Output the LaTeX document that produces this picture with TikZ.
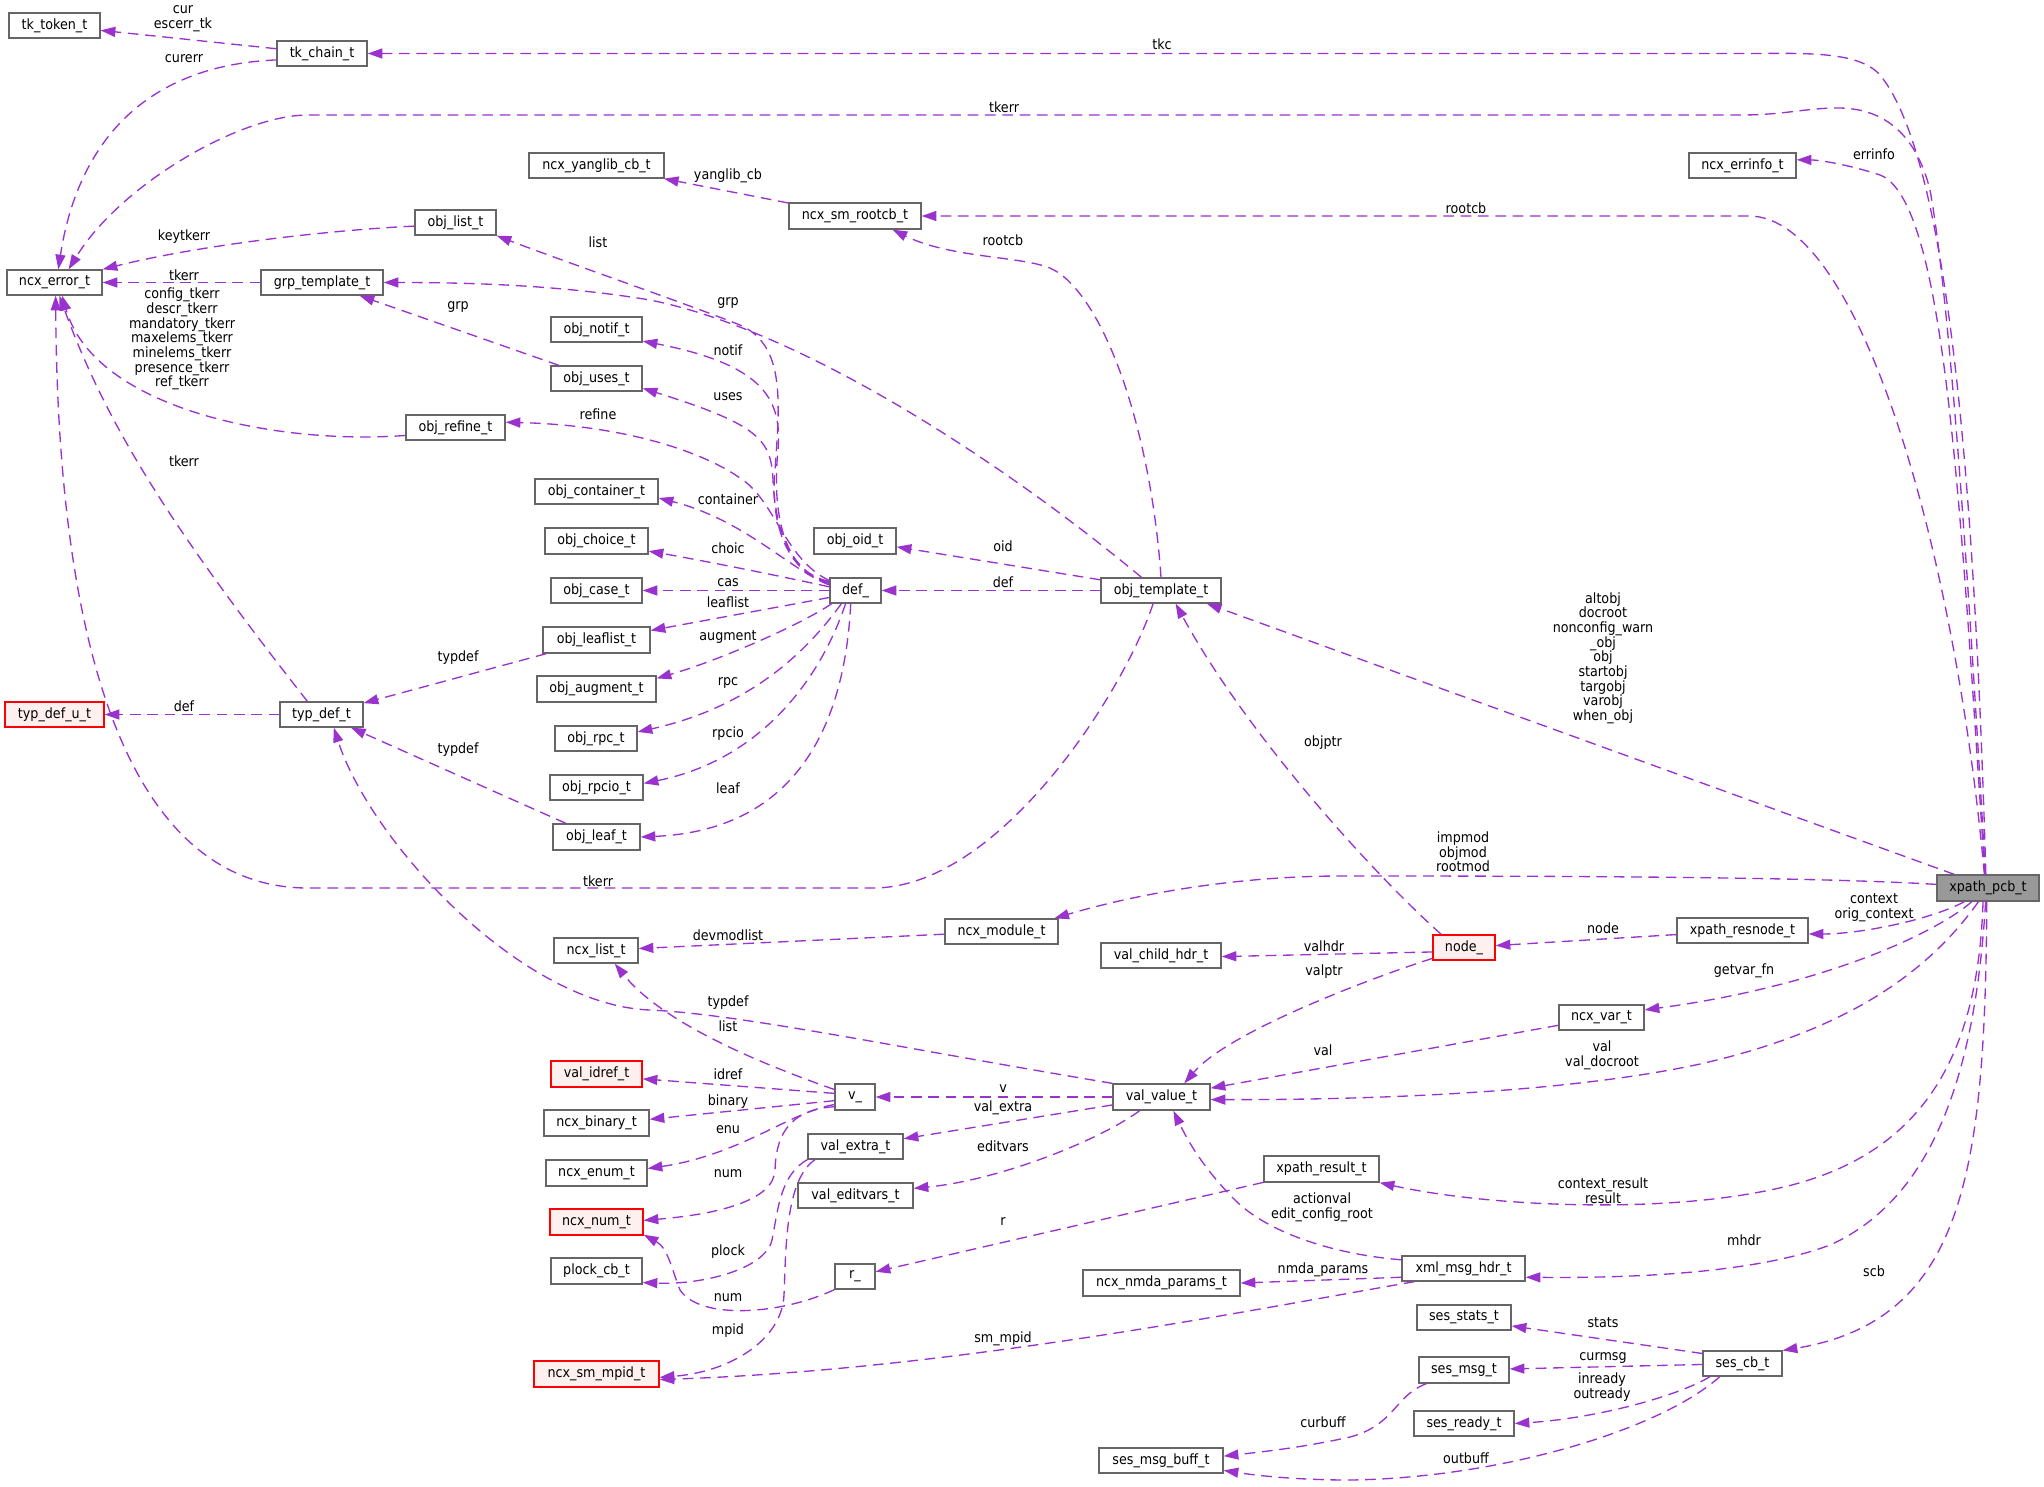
\documentclass[tikz,border=0pt]{standalone}
\usepackage{fontspec}
\setmainfont{DejaVu Sans}[FakeStretch=0.9]
\usetikzlibrary{arrows.meta}
\definecolor{edgec}{HTML}{9A32CD}
\definecolor{bordg}{HTML}{666666}
\definecolor{redf}{HTML}{FFF0F0}
\definecolor{grayf}{HTML}{999999}
\newcommand\fsz{\fontsize{10.6}{11}\selectfont}
\newcommand\nodebx[7][]{\node[cls,#1,minimum width={(#4-#3)*0.75pt},minimum height={(#6-#5)*0.75pt}] (#2) at ({(#3+#4)/2},{(#5+#6)/2}) {#7};}
\newcommand\edgelbl[4]{\node[lbl] (#1) at (#2,#3) {#4};}
\begin{document}
\begin{tikzpicture}[x=0.75pt,y=-0.75pt,
  cls/.style={draw=bordg,fill=white,line width=1pt,inner sep=0pt,font=\fsz},
  rednode/.style={draw=red,fill=redf},
  mainnode/.style={fill=grayf},
  lbl/.style={inner sep=0pt,font=\fsz,align=center},
  lnk/.style={draw=edgec,line width=1pt,dash pattern=on 8pt off 5pt,-{Triangle[length=11pt,width=7.5pt]}}]
\useasboundingbox (0,0) rectangle (2044,1486);
% nodes
\nodebx{tktoken}{9}{100}{13}{38}{tk\_token\_t}
\nodebx{tkchain}{277}{367}{41}{66}{tk\_chain\_t}
\nodebx{ncxerror}{7}{102}{270}{295}{ncx\_error\_t}
\nodebx{yanglib}{529}{664}{153}{178}{ncx\_yanglib\_cb\_t}
\nodebx{rootcb}{789}{921}{203}{229}{ncx\_sm\_rootcb\_t}
\nodebx{errinfo}{1689}{1796}{153}{178}{ncx\_errinfo\_t}
\nodebx{objlist}{415}{496}{210}{235}{obj\_list\_t}
\nodebx{grptmpl}{261}{383}{270}{295}{grp\_template\_t}
\nodebx{objnotif}{551}{642}{317}{342}{obj\_notif\_t}
\nodebx{objuses}{551}{642}{366}{391}{obj\_uses\_t}
\nodebx{objrefine}{406}{505}{415}{440}{obj\_refine\_t}
\nodebx{objcontainer}{535}{658}{479}{504}{obj\_container\_t}
\nodebx{objchoice}{545}{648}{528}{554}{obj\_choice\_t}
\nodebx{objcase}{551}{642}{578}{603}{obj\_case\_t}
\nodebx{objleaflist}{543}{650}{627}{653}{obj\_leaflist\_t}
\nodebx{objaugment}{537}{656}{676}{702}{obj\_augment\_t}
\nodebx{objrpc}{555}{637}{726}{751}{obj\_rpc\_t}
\nodebx{objrpcio}{550}{643}{775}{800}{obj\_rpcio\_t}
\nodebx{objleaf}{553}{640}{824}{850}{obj\_leaf\_t}
\nodebx[rednode]{typdefu}{5}{104}{702}{727}{typ\_def\_u\_t}
\nodebx{typdef}{280}{363}{702}{727}{typ\_def\_t}
\nodebx{objoid}{814}{896}{528}{554}{obj\_oid\_t}
\nodebx{def}{830}{881}{578}{603}{def\_}
\nodebx{objtmpl}{1101}{1221}{578}{603}{obj\_template\_t}
\nodebx[mainnode]{xpathpcb}{1937}{2039}{875}{901}{xpath\_pcb\_t}
\nodebx{ncxmodule}{945}{1058}{919}{944}{ncx\_module\_t}
\nodebx{ncxlist}{554}{638}{938}{963}{ncx\_list\_t}
\nodebx{valchild}{1101}{1221}{943}{968}{val\_child\_hdr\_t}
\nodebx[rednode]{nodeu}{1433}{1495}{935}{960}{node\_}
\nodebx{resnode}{1677}{1808}{918}{943}{xpath\_resnode\_t}
\nodebx{ncxvar}{1559}{1644}{1005}{1030}{ncx\_var\_t}
\nodebx[rednode]{validref}{551}{642}{1061}{1087}{val\_idref\_t}
\nodebx{ncxbinary}{544}{649}{1110}{1136}{ncx\_binary\_t}
\nodebx{vu}{835}{875}{1084}{1110}{v\_}
\nodebx{valvalue}{1113}{1210}{1084}{1110}{val\_value\_t}
\nodebx{valextra}{808}{903}{1134}{1159}{val\_extra\_t}
\nodebx{ncxenum}{546}{647}{1160}{1186}{ncx\_enum\_t}
\nodebx{valeditvars}{798}{913}{1183}{1208}{val\_editvars\_t}
\nodebx{xpathresult}{1264}{1379}{1156}{1182}{xpath\_result\_t}
\nodebx[rednode]{ncxnum}{550}{643}{1209}{1235}{ncx\_num\_t}
\nodebx{plock}{551}{642}{1258}{1284}{plock\_cb\_t}
\nodebx{ru}{835}{875}{1264}{1289}{r\_}
\nodebx{nmda}{1083}{1240}{1270}{1296}{ncx\_nmda\_params\_t}
\nodebx{xmlmsg}{1402}{1525}{1256}{1281}{xml\_msg\_hdr\_t}
\nodebx{sesstats}{1417}{1511}{1305}{1330}{ses\_stats\_t}
\nodebx{sescb}{1703}{1782}{1351}{1376}{ses\_cb\_t}
\nodebx{sesmsg}{1419}{1509}{1357}{1383}{ses\_msg\_t}
\nodebx{sesready}{1414}{1514}{1411}{1436}{ses\_ready\_t}
\nodebx{msgbuff}{1099}{1223}{1448}{1473}{ses\_msg\_buff\_t}
\nodebx[rednode]{mpid}{534}{659}{1361}{1387}{ncx\_sm\_mpid\_t}
% edges
\draw[lnk] (tkchain) -- (tktoken);
\draw[lnk] (tkchain.188) .. controls (130,66) and (75,160) .. (ncxerror.74);
\draw[lnk] (xpathpcb.99) .. controls (1975,500) and (1950,160) .. (1880,75) .. controls (1858,50) and (1800,53.5) .. (1744,53.5) -- (tkchain.east);
\draw[lnk] (xpathpcb.101) .. controls (1970,600) and (1950,300) .. (1930,190) .. controls (1915,130) and (1880,108) .. (1838,108) .. controls (1805,108) and (1785,115) .. (1740,115) -- (308,115) .. controls (240,115) and (120,185) .. (ncxerror.43);
\draw[lnk] (xpathpcb.103) .. controls (1960,500) and (1945,200) .. (1880,175) .. controls (1850,165) and (1820,160) .. (errinfo.6);
\draw[lnk] (rootcb) -- (yanglib);
\draw[lnk] (xpathpcb.105) .. controls (1955,550) and (1860,216) .. (1749,216) -- (rootcb.east);
\draw[lnk] (objtmpl.north) .. controls (1150,420) and (1100,290) .. (1050,268) .. controls (1020,256) and (950,258) .. (rootcb.-20);
\draw[lnk] (objlist.185) .. controls (330,230) and (200,245) .. (ncxerror.north east);
\draw[lnk] (grptmpl) -- (ncxerror);
\draw[lnk] (objrefine.189) .. controls (280,445) and (95,410) .. (ncxerror.-60);
\draw[lnk] (typdef.137) .. controls (165,520) and (105,420) .. (ncxerror.-70);
\draw[lnk] (objtmpl.-121) .. controls (1125,690) and (1000,888) .. (873,888) -- (308,888) .. controls (150,888) and (58,700) .. (ncxerror.-85);
\draw[lnk] (objtmpl.146) .. controls (1000,460) and (800,330) .. (650,300) .. controls (560,285) and (470,282.5) .. (grptmpl.east);
\draw[lnk] (objuses) -- (grptmpl);
\draw[lnk] (def.165) .. controls (785,572) and (770,520) .. (775,470) .. controls (780,400) and (785,345) .. (740,325) .. controls (690,305) and (560,260) .. (objlist.south east);
\draw[lnk] (def.163) .. controls (782,572) and (772,510) .. (778,450) .. controls (782,400) and (765,365) .. (objnotif.-14);
\draw[lnk] (def.161) .. controls (785,572) and (775,520) .. (773,480) .. controls (771,440) and (760,425) .. (objuses.-12);
\draw[lnk] (def.159) .. controls (785,560) and (775,500) .. (740,478) .. controls (700,450) and (620,425) .. (objrefine.6);
\draw[lnk] (def.168) .. controls (790,570) and (745,520) .. (objcontainer.-6);
\draw[lnk] (def.172) .. controls (780,576) and (700,560) .. (objchoice.-11);
\draw[lnk] (def) -- (objcase);
\draw[lnk] (def.195) -- (objleaflist.10);
\draw[lnk] (def.-151) .. controls (800,625) and (720,660) .. (objaugment.10);
\draw[lnk] (def.-137) .. controls (815,640) and (760,705) .. (objrpc.9);
\draw[lnk] (def.-127) .. controls (820,680) and (760,760) .. (objrpcio.5);
\draw[lnk] (def.-110) .. controls (845,720) and (800,830) .. (objleaf.east);
\draw[lnk] (objtmpl.170) -- (objoid.-8);
\draw[lnk] (objtmpl) -- (def);
\draw[lnk] (objleaflist) -- (typdef);
\draw[lnk] (objleaf) -- (typdef);
\draw[lnk] (typdef) -- (typdefu);
\draw[lnk] (valvalue.north west) .. controls (900,1048) and (740,1014) .. (650,1010) .. controls (520,1005) and (370,840) .. (typdef.-47);
\draw[lnk] (ncxmodule) -- (ncxlist);
\draw[lnk] (vu.160) .. controls (750,1060) and (660,1020) .. (ncxlist.-35);
\draw[lnk] (xpathpcb.176) .. controls (1800,876) and (1500,876) .. (1340,876) .. controls (1250,876) and (1150,890) .. (ncxmodule.14);
\draw[lnk] (nodeu.-172) -- (valchild.-1);
\draw[lnk] (nodeu.199) .. controls (1380,975) and (1230,1030) .. (valvalue.31);
\draw[lnk] (nodeu.150) .. controls (1380,880) and (1250,740) .. (objtmpl.-42);
\draw[lnk] (resnode) -- (nodeu);
\draw[lnk] (xpathpcb.-150) .. controls (1930,920) and (1860,934) .. (resnode.-3);
\draw[lnk] (xpathpcb.-140) .. controls (1940,930) and (1830,985) .. (ncxvar.10);
\draw[lnk] (ncxvar) -- (valvalue);
\draw[lnk] (xpathpcb.-125) .. controls (1930,970) and (1850,1030) .. (1700,1064) .. controls (1580,1090) and (1400,1100) .. (valvalue.-3);
\draw[lnk] (valvalue) -- (vu);
\draw[lnk] (valvalue) -- (valextra);
\draw[lnk] (valvalue.-148) .. controls (1100,1140) and (1000,1180) .. (valeditvars.7);
\draw[lnk] (vu.170) -- (validref.-6);
\draw[lnk] (vu.-170) -- (ncxbinary.4);
\draw[lnk] (vu.-160) .. controls (790,1112) and (740,1155) .. (ncxenum.5);
\draw[lnk] (vu.-155) .. controls (785,1110) and (776,1140) .. (775,1170) .. controls (774,1200) and (720,1214) .. (ncxnum.2);
\draw[lnk] (ru.south west) .. controls (780,1315) and (700,1320) .. (680,1290) .. controls (672,1270) and (668,1248) .. (ncxnum.-15);
\draw[lnk] (valextra.south west) .. controls (780,1175) and (778,1210) .. (772,1240) .. controls (765,1270) and (700,1285) .. (plock.-14);
\draw[lnk] (valextra.-162) .. controls (785,1180) and (786,1250) .. (784,1295) .. controls (782,1340) and (730,1372) .. (mpid.-3);
\draw[lnk] (xmlmsg.-165) .. controls (1250,1310) and (950,1370) .. (mpid.-5);
\draw[lnk] (xpathresult) -- (ru);
\draw[lnk] (xmlmsg.172) .. controls (1340,1255) and (1270,1235) .. (1235,1200) .. controls (1200,1165) and (1185,1135) .. (valvalue.-49);
\draw[lnk] (xmlmsg.-172) -- (nmda.east);
\draw[lnk] (xpathpcb.-110) .. controls (1978,1060) and (1920,1160) .. (1770,1190) .. controls (1650,1215) and (1480,1205) .. (xpathresult.south east);
\draw[lnk] (xpathpcb.-100) .. controls (1975,1080) and (1930,1200) .. (1830,1245) .. controls (1750,1275) and (1620,1278) .. (xmlmsg.-8);
\draw[lnk] (xpathpcb.-95) .. controls (1985,1170) and (1965,1320) .. (sescb.18);
\draw[lnk] (sescb.166) -- (sesstats.-10);
\draw[lnk] (sescb) -- (sesmsg);
\draw[lnk] (sescb.-158) .. controls (1680,1395) and (1600,1418) .. (sesready.east);
\draw[lnk] (sesmsg.-160) .. controls (1395,1395) and (1395,1425) .. (1350,1437) .. controls (1300,1448) and (1260,1452) .. (msgbuff.4);
\draw[lnk] (sescb.-150) .. controls (1660,1430) and (1500,1478) .. (1350,1480) .. controls (1300,1480) and (1260,1476) .. (msgbuff.-9);
\draw[lnk] (xpathpcb.158) -- (objtmpl.-16);
% labels
\edgelbl{l1}{183}{19}{cur\\escerr\_tk}
\edgelbl{l2}{184}{59}{curerr}
\edgelbl{l3}{1162}{44}{tkc}
\edgelbl{l4}{1004}{107}{tkerr}
\edgelbl{l5}{1874}{154}{errinfo}
\edgelbl{l6}{728}{176}{yanglib\_cb}
\edgelbl{l7}{1466}{208}{rootcb}
\edgelbl{l8}{1003}{240}{rootcb}
\edgelbl{l9}{184}{237}{keytkerr}
\edgelbl{l10}{184}{275}{tkerr}
\edgelbl{l11}{182}{339}{config\_tkerr\\descr\_tkerr\\mandatory\_tkerr\\maxelems\_tkerr\\minelems\_tkerr\\presence\_tkerr\\ref\_tkerr}
\edgelbl{l12}{184}{461}{tkerr}
\edgelbl{l13}{598}{881}{tkerr}
\edgelbl{l14}{728}{303}{grp}
\edgelbl{l15}{458}{307}{grp}
\edgelbl{l16}{598}{242}{list}
\edgelbl{l17}{728}{350}{notif}
\edgelbl{l18}{728}{397}{uses}
\edgelbl{l19}{598}{414}{refine}
\edgelbl{l20}{728}{499}{container}
\edgelbl{l21}{728}{548}{choic}
\edgelbl{l22}{728}{583}{cas}
\edgelbl{l23}{728}{602}{leaflist}
\edgelbl{l24}{728}{637}{augment}
\edgelbl{l25}{728}{683}{rpc}
\edgelbl{l26}{728}{734}{rpcio}
\edgelbl{l27}{728}{788}{leaf}
\edgelbl{l28}{1003}{546}{oid}
\edgelbl{l29}{1003}{582}{def}
\edgelbl{l30}{458}{658}{typdef}
\edgelbl{l31}{458}{750}{typdef}
\edgelbl{l32}{184}{706}{def}
\edgelbl{l33}{728}{1003}{typdef}
\edgelbl{l34}{728}{935}{devmodlist}
\edgelbl{l35}{728}{1026}{list}
\edgelbl{l36}{1463}{852}{impmod\\objmod\\rootmod}
\edgelbl{l37}{1324}{946}{valhdr}
\edgelbl{l38}{1324}{972}{valptr}
\edgelbl{l39}{1323}{743}{objptr}
\edgelbl{l40}{1603}{928}{node}
\edgelbl{l41}{1874}{908}{context\\orig\_context}
\edgelbl{l42}{1744}{971}{getvar\_fn}
\edgelbl{l43}{1323}{1050}{val}
\edgelbl{l44}{1602}{1055}{val\\val\_docroot}
\edgelbl{l45}{1003}{1089}{v}
\edgelbl{l46}{1003}{1108}{val\_extra}
\edgelbl{l47}{1003}{1146}{editvars}
\edgelbl{l48}{728}{1074}{idref}
\edgelbl{l49}{728}{1102}{binary}
\edgelbl{l50}{728}{1130}{enu}
\edgelbl{l51}{728}{1174}{num}
\edgelbl{l52}{728}{1298}{num}
\edgelbl{l53}{728}{1252}{plock}
\edgelbl{l54}{728}{1331}{mpid}
\edgelbl{l55}{1003}{1339}{sm\_mpid}
\edgelbl{l56}{1003}{1222}{r}
\edgelbl{l57}{1322}{1207}{actionval\\edit\_config\_root}
\edgelbl{l58}{1323}{1270}{nmda\_params}
\edgelbl{l59}{1603}{1191}{context\_result\\result}
\edgelbl{l60}{1744}{1240}{mhdr}
\edgelbl{l61}{1874}{1271}{scb}
\edgelbl{l62}{1603}{1323}{stats}
\edgelbl{l63}{1603}{1358}{curmsg}
\edgelbl{l64}{1602}{1387}{inready\\outready}
\edgelbl{l65}{1323}{1422}{curbuff}
\edgelbl{l66}{1466}{1458}{outbuff}
\edgelbl{l67}{1603}{658}{altobj\\docroot\\nonconfig\_warn\\\_obj\\obj\\startobj\\targobj\\varobj\\when\_obj}
\end{tikzpicture}
\end{document}
